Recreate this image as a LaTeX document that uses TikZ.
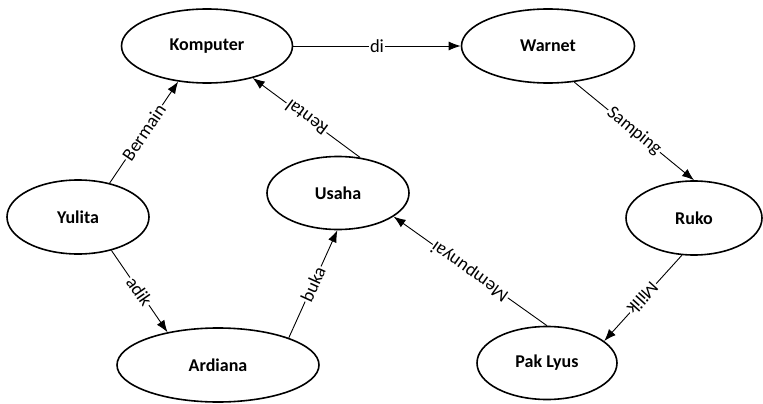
\documentclass[tikz,border=0pt]{standalone}
\usepackage{fontspec}
\setmainfont{Carlito}
\usetikzlibrary{shapes.geometric,arrows.meta}
\begin{document}
\begin{tikzpicture}[x=1pt,y=-1pt,
  ent/.style={ellipse,draw,line width=1.6pt,inner sep=0pt,font=\fontsize{18}{20}\selectfont\bfseries},
  rel/.style={line width=0.9pt,-{Latex[length=12pt,width=9pt]}},
  lab/.style={sloped,allow upside down,fill=white,inner sep=1pt,font=\fontsize{18.5}{20}\selectfont}]
\useasboundingbox (0,0) rectangle (763,404);
\node[ent,minimum width=171pt,minimum height=74pt] (komp) at (207,46) {Komputer};
\node[ent,minimum width=173pt,minimum height=74pt] (warn) at (548,46) {Warnet};
\node[ent,minimum width=136pt,minimum height=74pt] (ruko) at (694,218) {Ruko};
\node[ent,minimum width=142pt,minimum height=74pt] (yul) at (78,217) {Yulita};
\node[ent,minimum width=142pt,minimum height=73pt] (usa) at (338,193) {Usaha};
\node[ent,minimum width=202pt,minimum height=74pt] (ard) at (218,365) {Ardiana};
\node[ent,minimum width=140pt,minimum height=73pt] (pak) at (547,363) {Pak Lyus};
\draw[rel] (komp.east) -- node[lab]{di} (warn.west);
\draw[rel] (yul.47) -- node[lab]{Bermain} (komp.-129);
\draw[rel] (yul.-45) -- node[lab]{adik} (ard.147);
\draw[rel] (usa.58) -- node[lab]{Rental} (komp.-35);
\draw[rel] (ard.21) -- node[lab]{buka} (usa.-91);
\draw[rel] (pak.90) -- node[lab]{Mempunyai} (usa.-23);
\draw[rel] (warn.-54) -- node[lab]{Samping} (ruko.90);
\draw[rel] (ruko.-108) -- node[lab]{Milik} (pak.21);
\end{tikzpicture}
\end{document}
